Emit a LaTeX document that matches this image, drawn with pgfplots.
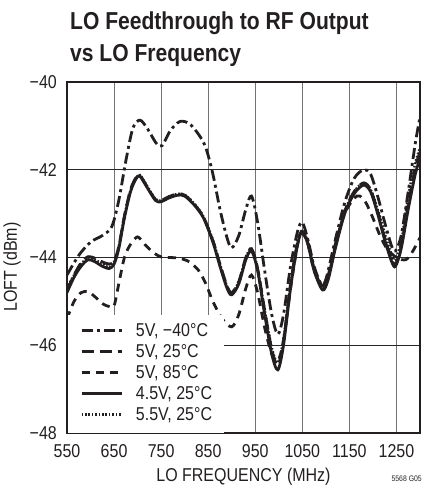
\documentclass[border=0pt]{standalone}
\usepackage{fontspec}
\setmainfont{Liberation Sans}[FakeStretch=0.86]
\usepackage{pgfplots}
\pgfplotsset{compat=1.18}
\definecolor{ink}{RGB}{35,31,32}
\begin{document}
\begin{tikzpicture}
\useasboundingbox (-67pt,-60pt) rectangle (357pt,433pt);
\node[anchor=base west, inner sep=0pt, font=\fontsize{24.5}{32}\selectfont\bfseries, text=ink] at (3pt,403pt) {LO Feedthrough to RF Output};
\node[anchor=base west, inner sep=0pt, font=\fontsize{24.5}{32}\selectfont\bfseries, text=ink] at (3pt,371pt) {vs LO Frequency};
\begin{axis}[
  at={(0pt,0pt)}, anchor=south west,
  scale only axis, width=353pt, height=351pt,
  xmin=550, xmax=1300, ymin=-48, ymax=-40,
  xtick={550,650,...,1250},
  xticklabels={550,650,750,850,950,1050,1150,1250},
  ytick={-48,-46,-44,-42,-40},
  yticklabels={−48,−46,−44,−42,−40},
  major tick length=0pt,
  axis line style={ink, line width=1.5pt},
  xmajorgrids, ymajorgrids,
  x grid style={black!55, line width=1.1pt},
  y grid style={black!85, line width=1.1pt},
  ticklabel style={font=\fontsize{18.6}{20}\selectfont, text=ink, inner sep=0pt},
  xticklabel style={anchor=base, yshift=-24.3pt},
  yticklabel style={anchor=east, xshift=-10pt},
  xlabel={LO FREQUENCY (MHz)},
  xlabel style={font=\fontsize{18.6}{20}\selectfont, text=ink, inner sep=0pt, at={(axis description cs:0.5,0)}, anchor=base, yshift=-48.7pt},
  ylabel={LOFT (dBm)},
  ylabel style={font=\fontsize{18.6}{20}\selectfont, text=ink, inner sep=0pt, at={(axis description cs:0,0.473)}, anchor=center, yshift=55pt},
  legend style={at={(rel axis cs:0,0.336)}, anchor=north west, xshift=1pt, draw=none, fill=white,
    font=\fontsize{18.6}{20}\selectfont, text=ink, inner xsep=12pt, inner ysep=6.5pt, row sep=0pt,
    nodes={inner sep=0pt, text height=15pt, text depth=6pt, anchor=base west}},
  legend cell align=left,
  legend image code/.code={\draw[#1] (0pt,6.5pt) -- (40pt,6.5pt); \path (53pt,0pt);},
  every axis plot/.append style={ink, smooth, line width=2.8pt},
]
% 5V, -40C
\addplot[dash pattern=on 11pt off 4pt on 3pt off 4pt] coordinates {
(550,-44.4) (575,-43.95) (600,-43.65) (625,-43.5) (645,-43.3) (660,-42.7) (675,-41.8) (690,-41.05) (705,-40.87) (720,-41.05) (740,-41.4) (752,-41.45) (770,-41.1) (790,-40.9) (810,-40.95) (830,-41.2) (845,-41.5) (860,-42.1) (875,-42.9) (890,-43.55) (900,-43.78) (915,-43.5) (930,-42.9) (942,-42.6) (955,-43.2) (970,-44.3) (985,-45.3) (998,-45.75) (1010,-45.3) (1025,-44.2) (1040,-43.4) (1050,-43.2) (1062,-43.6) (1075,-44.2) (1090,-44.6) (1100,-44.5) (1120,-43.6) (1140,-42.75) (1160,-42.2) (1180,-42.0) (1195,-42.1) (1210,-42.6) (1225,-43.2) (1240,-43.75) (1248,-43.85) (1260,-43.5) (1275,-42.5) (1290,-41.4) (1300,-40.8)};
\addlegendentry{5V, −40°C}
% 5V, 25C
\addplot[dash pattern=on 12pt off 6pt] coordinates {
(550,-44.75) (565,-44.4) (580,-44.12) (595,-43.98) (610,-44.02) (625,-44.1) (640,-44.15) (650,-44.08) (660,-43.75) (672,-43.05) (685,-42.45) (697,-42.17) (705,-42.13) (720,-42.38) (738,-42.68) (750,-42.7) (765,-42.62) (785,-42.55) (800,-42.58) (820,-42.78) (840,-43.08) (860,-43.62) (875,-44.15) (890,-44.65) (900,-44.8) (915,-44.55) (930,-44.0) (942,-43.8) (955,-44.25) (970,-45.2) (985,-46.1) (998,-46.45) (1010,-45.9) (1025,-44.6) (1040,-43.65) (1050,-43.4) (1062,-43.68) (1075,-44.25) (1093,-44.7) (1105,-44.45) (1120,-43.75) (1140,-42.95) (1160,-42.5) (1180,-42.3) (1195,-42.45) (1210,-42.95) (1225,-43.55) (1240,-44.05) (1248,-44.15) (1260,-43.75) (1275,-42.8) (1290,-41.95) (1300,-41.6)};
\addlegendentry{5V, 25°C}
% 5V, 85C
\addplot[dash pattern=on 8pt off 6pt] coordinates {
(550,-45.4) (565,-45.0) (580,-44.8) (595,-44.78) (610,-44.9) (625,-45.05) (640,-45.12) (650,-45.1) (660,-44.6) (672,-44.0) (685,-43.7) (700,-43.53) (715,-43.7) (735,-43.9) (751,-43.99) (770,-44.0) (790,-44.02) (810,-44.1) (830,-44.3) (845,-44.6) (860,-45.0) (880,-45.4) (900,-45.58) (915,-45.3) (930,-44.7) (942,-44.4) (955,-44.8) (970,-45.6) (985,-46.2) (998,-46.35) (1010,-45.9) (1025,-44.7) (1040,-43.7) (1050,-43.45) (1062,-43.7) (1075,-44.3) (1093,-44.65) (1105,-44.4) (1120,-43.7) (1140,-43.0) (1160,-42.65) (1172,-42.6) (1185,-42.75) (1200,-43.1) (1215,-43.5) (1230,-43.8) (1250,-44.0) (1270,-44.05) (1285,-43.85) (1300,-43.55)};
\addlegendentry{5V, 85°C}
% 4.5V, 25C
\addplot[solid] coordinates {
(550,-44.8) (565,-44.45) (580,-44.2) (595,-44.05) (610,-44.1) (625,-44.2) (640,-44.25) (650,-44.15) (660,-43.8) (672,-43.1) (685,-42.5) (697,-42.2) (705,-42.15) (720,-42.4) (738,-42.7) (750,-42.73) (765,-42.65) (785,-42.58) (800,-42.6) (820,-42.8) (840,-43.1) (860,-43.65) (875,-44.2) (890,-44.7) (900,-44.85) (915,-44.6) (930,-44.05) (942,-43.85) (955,-44.3) (970,-45.3) (985,-46.2) (998,-46.56) (1010,-46.0) (1025,-44.7) (1040,-43.7) (1050,-43.42) (1062,-43.7) (1075,-44.3) (1093,-44.74) (1105,-44.5) (1120,-43.8) (1140,-43.0) (1160,-42.55) (1180,-42.35) (1195,-42.5) (1210,-43.0) (1225,-43.6) (1240,-44.1) (1248,-44.2) (1260,-43.8) (1275,-42.9) (1290,-42.1) (1300,-41.75)};
\addlegendentry{4.5V, 25°C}
% 5.5V, 25C
\addplot[line width=2.5pt, dash pattern=on 1.6pt off 1.8pt] coordinates {
(550,-44.7) (565,-44.4) (580,-44.15) (595,-44.0) (610,-44.05) (625,-44.15) (640,-44.22) (650,-44.1) (660,-43.75) (672,-43.05) (685,-42.47) (697,-42.18) (705,-42.12) (720,-42.37) (738,-42.67) (750,-42.7) (765,-42.62) (785,-42.55) (800,-42.57) (820,-42.77) (840,-43.07) (860,-43.6) (875,-44.15) (890,-44.65) (900,-44.8) (915,-44.55) (930,-44.0) (942,-43.8) (955,-44.25) (970,-45.2) (985,-46.05) (998,-46.4) (1010,-45.85) (1025,-44.6) (1040,-43.65) (1050,-43.38) (1062,-43.65) (1075,-44.25) (1093,-44.7) (1105,-44.45) (1120,-43.75) (1140,-42.95) (1160,-42.5) (1180,-42.3) (1195,-42.45) (1210,-42.9) (1225,-43.45) (1240,-43.95) (1248,-44.05) (1260,-43.65) (1275,-42.6) (1290,-41.85) (1300,-41.5)};
\addlegendentry{5.5V, 25°C}
\end{axis}
\node[anchor=base east, inner sep=0pt, font=\fontsize{8}{9}\selectfont, text=ink] at (355pt,-48pt) {5568 G05};
\end{tikzpicture}
\end{document}
